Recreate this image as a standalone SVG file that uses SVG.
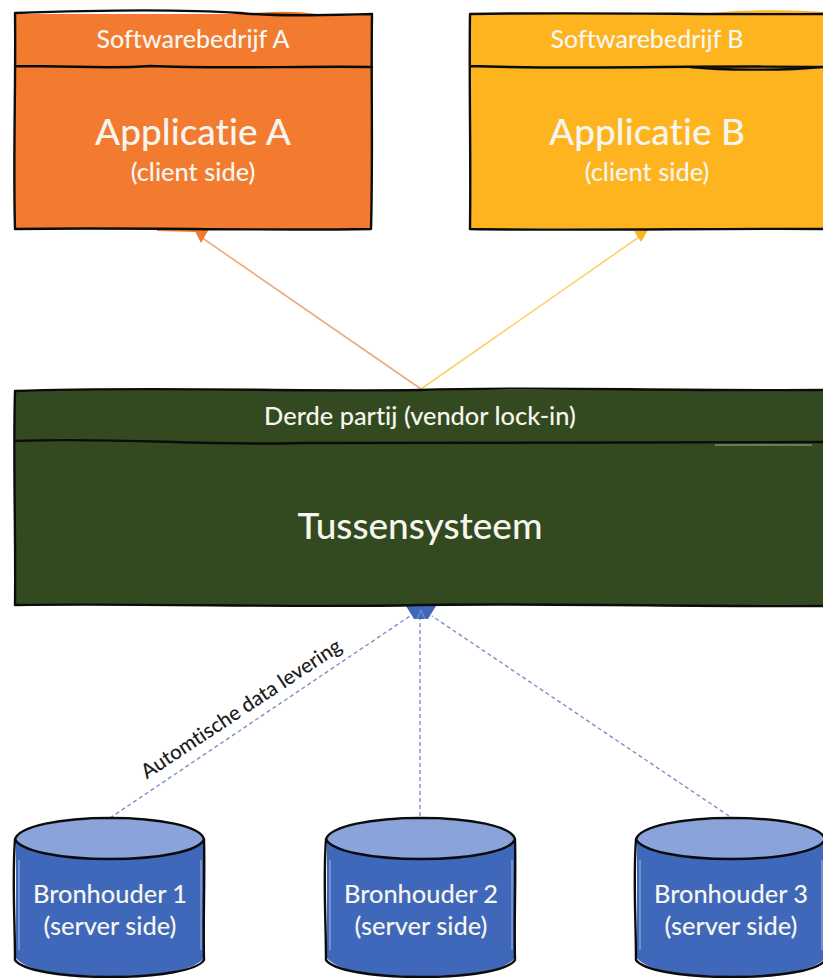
<svg xmlns="http://www.w3.org/2000/svg" width="823" height="978" viewBox="0 0 823 978">
<defs>
<style>
text{font-family:Lato,"Liberation Sans",sans-serif;fill:#f6f6ee;text-anchor:middle;font-variant-ligatures:none;font-weight:500}
.o{fill:none;stroke:#0c0c0c;stroke-width:2.4;stroke-linejoin:round;stroke-linecap:round}
.w{fill:none;stroke:#fff;stroke-width:1;opacity:.55}
.s{font-size:25px}.m{font-size:25.4px}.b{font-size:37px}
.d{fill:none;stroke:#7d8fc4;stroke-width:1.4;stroke-dasharray:4 3}
.top{fill:#8aa3da}.body{fill:#3f68bb}
</style>
<g id="cyl"><path class="body" d="M16 838H204V958Q190 976 110 976Q30 976 16 958Z"/><ellipse class="top" cx="110" cy="839" rx="94" ry="20"/><path class="w" d="M19 860V950M201 860V950"/><path class="o" d="M15 839C20 826 60 818 110 818C160 818 200 826 204 839C200 851 160 859 110 859C60 859 20 851 15 839ZM15 839C12 880 15 920 15 960C22 970 60 977 110 977C160 977 198 970 204 960C203 920 205 880 204 839"/></g>
</defs>
<rect width="823" height="978" fill="#fff"/>
<g id="connectors">
<path d="M421 389L198 235" fill="none" stroke="#f0a878" stroke-width="1.6"/><path d="M194 229H209L201 243Z" fill="#f27a2e"/>
<path d="M421 389L642 235" fill="none" stroke="#fbd168" stroke-width="1.6"/><path d="M648 230L634 231L641 242Z" fill="#fbb31f"/>
<path class="d" d="M110 818L410 616M420 816V618M729 816L432 616"/><path d="M406 606H436L428 619H414Z" fill="#3f68bb"/><path d="M417 619L421 610L425 619" fill="none" stroke="#7d95d6"/>
</g>
<g id="softwarebedrijf-a"><path d="M255 13Q290 10 318 14L318 20H255ZM157 228H197V232L157 231Z" fill="#f27b30"/><rect x="15" y="14" width="357" height="215" fill="#f27b30"/><path class="o" d="M15 13C100 10 180 9 240 13C280 17 330 15 372 14C371 80 373 160 371 229C250 231 130 227 15 229C13 160 16 80 15 13ZM15 66C80 66 110 69 150 66C220 69 300 66 372 67"/><text class="s" x="193" y="48">Softwarebedrijf A</text><text class="b" x="193" y="145">Applicatie A</text><text class="m" x="193" y="181">(client side)</text></g>
<g id="softwarebedrijf-b"><path d="M710 13Q770 8 823 12V20H710Z" fill="#fdb41f"/><rect x="470" y="14" width="353" height="215" fill="#fdb41f"/><path class="o" d="M823 14C720 15 590 12 470 14C469 80 471 160 470 229C590 231 720 228 823 229M470 66C580 70 700 65 823 67C780 71 720 70 690 67"/><text class="s" x="647" y="48">Softwarebedrijf B</text><text class="b" x="647" y="145">Applicatie B</text><text class="m" x="647" y="181">(client side)</text></g>
<g id="tussensysteem"><rect x="15" y="390" width="808" height="215" fill="#334a20"/><path class="w" d="M715 445H812"/><path class="o" d="M823 390C650 391 530 386 420 390C300 392 150 386 15 391C13 460 16 540 15 605C150 603 300 608 420 605C550 603 700 607 823 606M15 441C120 437 200 446 300 443C450 444 650 442 823 442"/><text class="m" x="420" y="425">Derde partij (vendor lock-in)</text><text x="420" y="539" font-size="37">Tussensysteem</text></g>
<g id="bronhouder-1"><use href="#cyl"/><text class="m" x="110" y="903">Bronhouder 1</text><text class="m" x="110" y="935">(server side)</text></g>
<g id="bronhouder-2"><use href="#cyl" x="311"/><text class="m" x="421" y="903">Bronhouder 2</text><text class="m" x="421" y="935">(server side)</text></g>
<g id="bronhouder-3"><use href="#cyl" x="621"/><text class="m" x="731" y="903">Bronhouder 3</text><text class="m" x="731" y="935">(server side)</text></g>
<text transform="translate(245 714.5) rotate(-33.5)" font-size="20.5" style="fill:#1c1c1c">Automtische data levering</text>
</svg>
